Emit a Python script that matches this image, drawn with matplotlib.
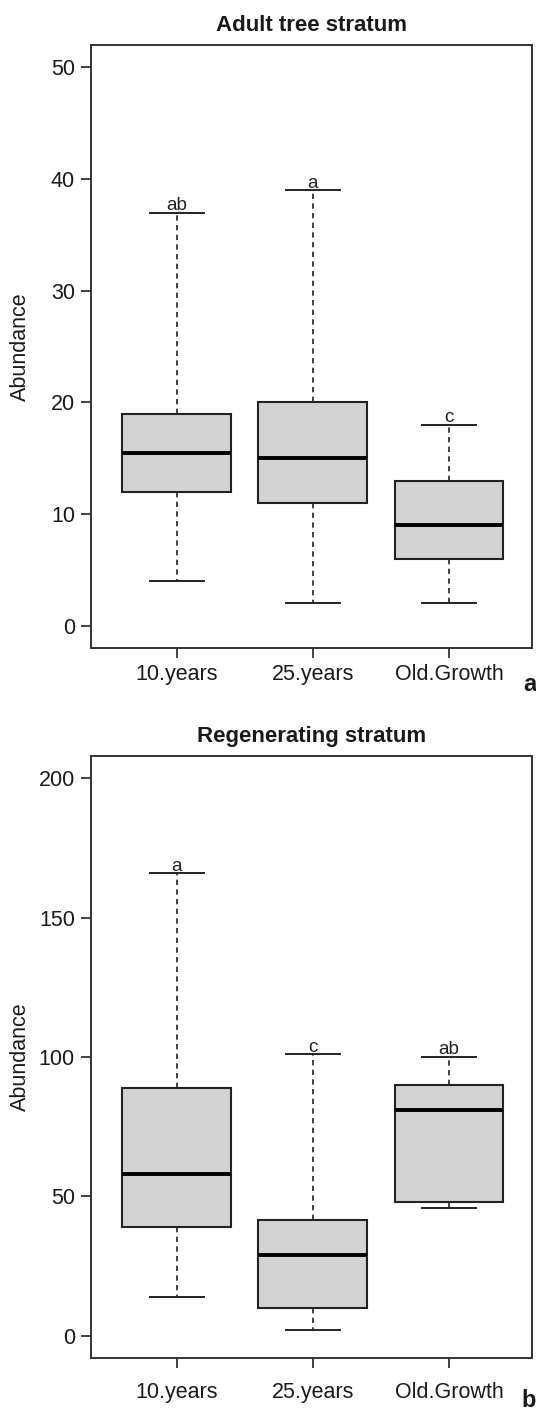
import matplotlib
matplotlib.use("Agg")
import matplotlib.pyplot as plt

plt.rcParams['font.family'] = ['Liberation Sans', 'DejaVu Sans']

categories = ["10.years", "25.years", "Old.Growth"]

# Panel a: Adult tree stratum
adult_whislo = [4, 2, 2]
adult_q1 = [12, 11, 6]
adult_med = [15.5, 15, 9]
adult_q3 = [19, 20, 13]
adult_whishi = [37, 39, 18]
adult_letters = ["ab", "a", "c"]
adult_yticks = [0, 10, 20, 30, 40, 50]

# Panel b: Regenerating stratum
regen_whislo = [14, 2, 46]
regen_q1 = [39, 10, 48]
regen_med = [58, 29, 81]
regen_q3 = [89, 41.5, 90]
regen_whishi = [166, 101, 100]
regen_letters = ["a", "c", "ab"]
regen_yticks = [0, 50, 100, 150, 200]

W, H = 536, 1411
fig = plt.figure(figsize=(W / 100, H / 100), dpi=100)

EDGE = '#222222'


def make_stats(lo, q1, med, q3, hi):
    return [dict(whislo=a, q1=b, med=c, q3=d, whishi=e, fliers=[])
            for a, b, c, d, e in zip(lo, q1, med, q3, hi)]


def draw_panel(rect, title, lo, q1, med, q3, hi, letters, yticks, ylim, xpad):
    ax = fig.add_axes(rect)
    stats = make_stats(lo, q1, med, q3, hi)
    pos = list(range(1, len(categories) + 1))
    ax.bxp(stats, positions=pos, widths=0.8, capwidths=0.4, showfliers=False,
           patch_artist=True,
           boxprops=dict(facecolor='#D3D3D3', edgecolor=EDGE, linewidth=1.5),
           medianprops=dict(color='black', linewidth=2.8, solid_capstyle='butt'),
           whiskerprops=dict(color=EDGE, linewidth=1.2, linestyle=(0, (3.2, 2.6))),
           capprops=dict(color=EDGE, linewidth=1.4))
    for p, h, t in zip(pos, hi, letters):
        ax.annotate(t, xy=(p, h), xytext=(0, 1.8), textcoords='offset points',
                    ha='center', va='baseline', fontsize=13.5, color='#222222')
    ax.set_xlim(0.37, 3.61)
    ax.set_ylim(*ylim)
    ax.set_yticks(yticks)
    ax.set_xticks(pos)
    ax.set_xticklabels(categories)
    ax.tick_params(axis='both', direction='out', length=7.3, width=1.3,
                   color='#333333', labelsize=15.5, labelcolor='#1a1a1a')
    ax.tick_params(axis='y', pad=4.3)
    ax.tick_params(axis='x', pad=xpad)
    for s in ax.spines.values():
        s.set_linewidth(1.4)
        s.set_color('#333333')
    ax.set_title(title, fontsize=16, fontweight='bold', pad=10.3, color='#1a1a1a')
    ax.set_ylabel("Abundance", fontsize=15.5, color='#1a1a1a')
    ax.yaxis.set_label_coords(-60 / (rect[2] * W), 0.5)
    return ax


left = 91 / W
width = (532 - 91) / W
axa = draw_panel([left, 1 - 648 / H, width, 603 / H], "Adult tree stratum",
                 adult_whislo, adult_q1, adult_med, adult_q3, adult_whishi,
                 adult_letters, adult_yticks, (-2, 52), 4.3)
axb = draw_panel([left, 1 - 1358 / H, width, 602 / H], "Regenerating stratum",
                 regen_whislo, regen_q1, regen_med, regen_q3, regen_whishi,
                 regen_letters, regen_yticks, (-8, 208), 10)

fig.text(1.0, 1 - 691 / H, "a", ha='right', va='baseline', fontsize=17,
         fontweight='bold', color='#1a1a1a')
fig.text(1.0, 1 - 1407 / H, "b", ha='right', va='baseline', fontsize=17,
         fontweight='bold', color='#1a1a1a')

fig.savefig("out.png", dpi=100)
